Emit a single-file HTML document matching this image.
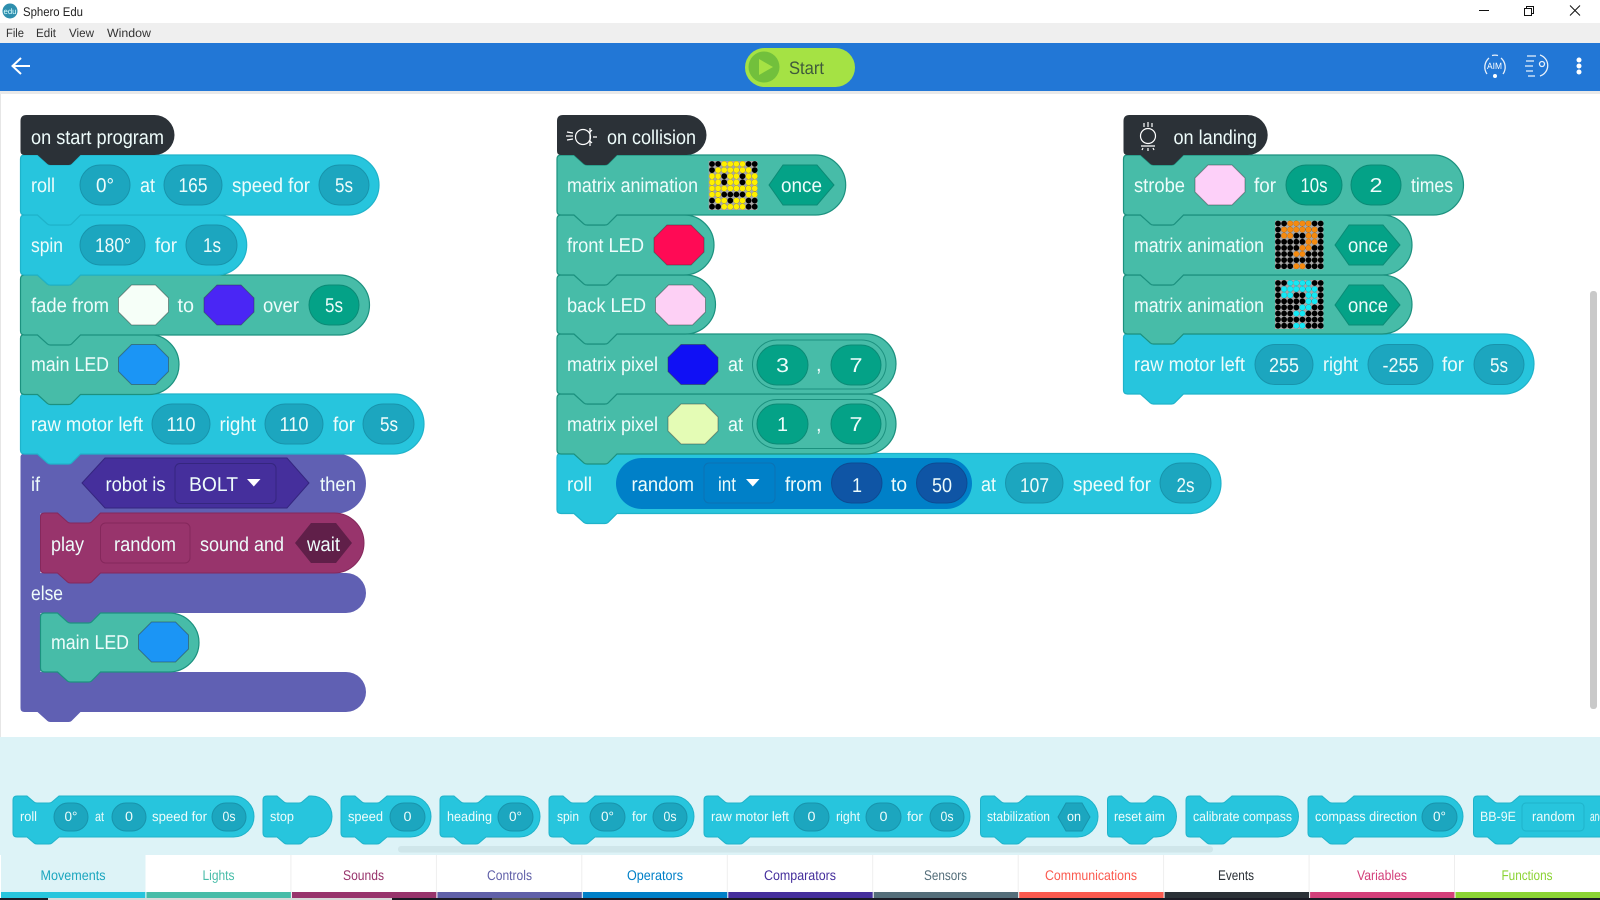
<!DOCTYPE html>
<html><head><meta charset="utf-8"><title>Sphero Edu</title>
<style>
html,body{margin:0;padding:0;background:#fff;width:1600px;height:900px;overflow:hidden}
svg{display:block}
text{font-family:"Liberation Sans",sans-serif;text-rendering:geometricPrecision}
.t text{font-size:20px;fill:#eefcfb}
.v text{font-size:20px;fill:#eefcfb;text-anchor:middle}
.p text{font-size:13.5px;fill:#eefcfb}
.pv text{font-size:13.5px;fill:#eefcfb;text-anchor:middle}
.c{fill:#27c5dd;stroke:#1fb3ca;stroke-width:1.2}
.g{fill:#47bca8;stroke:#1c917f;stroke-width:1.2}
.pc{fill:#1ca6bf;stroke:#1894ac}
.pg{fill:#04a287;stroke:#0b8b76}
.o{stroke:#333;stroke-opacity:.45;stroke-width:1}
.dots{fill:none;stroke-linecap:round;stroke-width:.95;stroke-dasharray:0 1}
.tab text{font-size:14px;text-anchor:middle}
</style></head>
<body>
<svg width="1600" height="900" viewBox="0 0 1600 900" xmlns="http://www.w3.org/2000/svg">
<defs>
<path id="mk" class="dots" stroke="#000" d="M0 0h7.01M0 1h7.01M0 2h7.01M0 3h7.01M0 4h7.01M0 5h7.01M0 6h7.01M0 7h7.01"/>
<path id="oc" d="M13 0H37L50 13V27L37 40H13L0 27V13Z"/>
</defs>
<!-- app chrome -->
<rect width="1600" height="900" fill="#fff"/>
<rect x="0" y="23" width="1600" height="20" fill="#efefef"/>
<rect x="0" y="43" width="1600" height="48" fill="#2277d6"/>
<rect x="0" y="91" width="1600" height="3" fill="#e9e9e9"/>
<rect x="0" y="94" width="1" height="643" fill="#e6e6e6"/>
<circle cx="10" cy="11" r="7.5" fill="#2e8fae"/>
<text x="3.5" y="14" font-size="8" fill="#dff" textLength="13" lengthAdjust="spacingAndGlyphs">edu</text>
<text x="23" y="16" font-size="12.5" fill="#222" textLength="60" lengthAdjust="spacingAndGlyphs">Sphero Edu</text>
<g font-size="12" fill="#333">
<text x="6" y="37" textLength="18" lengthAdjust="spacingAndGlyphs">File</text>
<text x="36" y="37" textLength="20" lengthAdjust="spacingAndGlyphs">Edit</text>
<text x="69" y="37" textLength="25" lengthAdjust="spacingAndGlyphs">View</text>
<text x="107" y="37" textLength="44" lengthAdjust="spacingAndGlyphs">Window</text>
</g>
<path d="M1479 10.5h10" stroke="#111" fill="none"/>
<path d="M1524.5 8.5h7v7h-7zM1526.5 8.5v-2h7v7h-2" stroke="#111" fill="none"/>
<path d="M1570 5.5l10 10M1580 5.5l-10 10" stroke="#111" fill="none"/>
<path d="M13 66H30M21 58l-8.500 8 8.500 8" stroke="#fff" stroke-width="2" fill="none"/>
<rect x="745" y="48" width="110" height="39" rx="19.500" fill="#a5e244"/>
<circle cx="764" cy="67" r="15.500" fill="#72c03c"/>
<path d="M759 59l14 8-14 8z" fill="#a5e244"/>
<text x="789" y="74" font-size="18" fill="#3f5a3c" textLength="35" lengthAdjust="spacingAndGlyphs">Start</text>
<g fill="none" stroke="#fff" stroke-width="1.300" opacity=".9">
<path d="M1489 58a12 12 0 0 0 -2 16M1501 58a12 12 0 0 1 2 16M1492 55.500a12 12 0 0 1 6 0"/>
<path d="M1527 56h9M1526 61h8M1525 66h8M1526 71h7M1528 76h7M1540 55a11 11 0 0 1 0 21"/>
<circle cx="1542" cy="64" r="2.500"/>
</g>
<circle cx="1495" cy="76" r="2" fill="#fff"/>
<text x="1487" y="69" font-size="9" fill="#fff" textLength="15" lengthAdjust="spacingAndGlyphs">AIM</text>
<circle cx="1579" cy="60" r="2.500" fill="#fff"/><circle cx="1579" cy="66" r="2.500" fill="#fff"/><circle cx="1579" cy="72" r="2.500" fill="#fff"/>
<rect x="1590" y="291" width="7" height="418" rx="3" fill="#c9c9c9"/>

<!-- COLUMN 1 shapes bottom-up -->
<path fill="#6060b3" d="M20.500 457.500q0-4 4-4h13l10 9q1 1 3 1h18q2 0 3-1l9-9H336a30 30 0 0 1 0 60H100.500l-9 9q-1 1-3 1h-18q-2 0-3-1l-10-9h-17V573H346a20 20 0 0 1 0 40H100.500l-9 9q-1 1-3 1h-18q-2 0-3-1l-10-9h-17V672H346a20 20 0 0 1 0 40H80.500l-9 9q-1 1-3 1h-18q-2 0-3-1l-10-9h-13q-4 0-4-4z"/>
<path fill="#98346c" stroke="#85285c" d="M40.500 517q0-4 4-4h13l10 9q1 1 3 1h18q2 0 3-1l9-9H334a30 30 0 0 1 0 60H100.500l-9 9q-1 1-3 1h-18q-2 0-3-1l-10-9h-13q-4 0-4-4z"/>
<path class="g" d="M40.500 617q0-4 4-4h13l10 9q1 1 3 1h18q2 0 3-1l9-9H169a30 29.500 0 0 1 0 59H100.500l-9 9q-1 1-3 1h-18q-2 0-3-1l-10-9h-13q-4 0-4-4z"/>
<path class="c" d="M20.500 398q0-4 4-4h13l10 9q1 1 3 1h18q2 0 3-1l9-9H394a30 30 0 0 1 0 60H80.500l-9 9q-1 1-3 1h-18q-2 0-3-1l-10-9h-13q-4 0-4-4z"/>
<path class="g" d="M20.500 338.500q0-4 4-4h13l10 9q1 1 3 1h18q2 0 3-1l9-9H149a30 30 0 0 1 0 60H80.500l-9 9q-1 1-3 1h-18q-2 0-3-1l-10-9h-13q-4 0-4-4z"/>
<path class="g" d="M20.500 279q0-4 4-4h13l10 9q1 1 3 1h18q2 0 3-1l9-9H339.500a30 30 0 0 1 0 60H80.500l-9 9q-1 1-3 1h-18q-2 0-3-1l-10-9h-13q-4 0-4-4z"/>
<path class="c" d="M20.500 219q0-4 4-4h13l10 9q1 1 3 1h18q2 0 3-1l9-9H216.700a30 30 0 0 1 0 60H80.500l-9 9q-1 1-3 1h-18q-2 0-3-1l-10-9h-13q-4 0-4-4z"/>
<path class="c" d="M20.500 159q0-4 4-4h13l10 9q1 1 3 1h18q2 0 3-1l9-9H349a30 30 0 0 1 0 60H80.500l-9 9q-1 1-3 1h-18q-2 0-3-1l-10-9h-13q-4 0-4-4z"/>
<path fill="#2b3137" d="M20.500 121q0-6 6-6H154.500a20 20 0 0 1 0 40H80.500l-9 9q-1 1-3 1h-18q-2 0-3-1l-10-9h-13q-4 0-4-4z"/>

<!-- COLUMN 2 shapes -->
<path class="c" d="M557 457.500q0-4 4-4h13l10 9q1 1 3 1h18q2 0 3-1l9-9H1191a30 30 0 0 1 0 60H617l-9 9q-1 1-3 1h-18q-2 0-3-1l-10-9h-13q-4 0-4-4z"/>
<path class="g" d="M557 398q0-4 4-4h13l10 9q1 1 3 1h18q2 0 3-1l9-9H866a30 30 0 0 1 0 60H617l-9 9q-1 1-3 1h-18q-2 0-3-1l-10-9h-13q-4 0-4-4z"/>
<path class="g" d="M557 338q0-4 4-4h13l10 9q1 1 3 1h18q2 0 3-1l9-9H866a30 30 0 0 1 0 60H617l-9 9q-1 1-3 1h-18q-2 0-3-1l-10-9h-13q-4 0-4-4z"/>
<path class="g" d="M557 279q0-4 4-4h13l10 9q1 1 3 1h18q2 0 3-1l9-9H685.500a30 29.500 0 0 1 0 59H617l-9 9q-1 1-3 1h-18q-2 0-3-1l-10-9h-13q-4 0-4-4z"/>
<path class="g" d="M557 219q0-4 4-4h13l10 9q1 1 3 1h18q2 0 3-1l9-9H684a30 30 0 0 1 0 60H617l-9 9q-1 1-3 1h-18q-2 0-3-1l-10-9h-13q-4 0-4-4z"/>
<path class="g" d="M557 159q0-4 4-4h13l10 9q1 1 3 1h18q2 0 3-1l9-9H815.700a30 30 0 0 1 0 60H617l-9 9q-1 1-3 1h-18q-2 0-3-1l-10-9h-13q-4 0-4-4z"/>
<path fill="#2b3137" d="M557 121q0-6 6-6H686.500a20 20 0 0 1 0 40H617l-9 9q-1 1-3 1h-18q-2 0-3-1l-10-9h-13q-4 0-4-4z"/>

<!-- COLUMN 3 shapes -->
<path class="c" d="M1123.500 338q0-4 4-4h13l10 9q1 1 3 1h18q2 0 3-1l9-9H1504a30 30 0 0 1 0 60H1183.500l-9 9q-1 1-3 1h-18q-2 0-3-1l-10-9h-13q-4 0-4-4z"/>
<path class="g" d="M1123.500 279q0-4 4-4h13l10 9q1 1 3 1h18q2 0 3-1l9-9H1382a30 29.500 0 0 1 0 59H1183.500l-9 9q-1 1-3 1h-18q-2 0-3-1l-10-9h-13q-4 0-4-4z"/>
<path class="g" d="M1123.500 219q0-4 4-4h13l10 9q1 1 3 1h18q2 0 3-1l9-9H1382a30 30 0 0 1 0 60H1183.500l-9 9q-1 1-3 1h-18q-2 0-3-1l-10-9h-13q-4 0-4-4z"/>
<path class="g" d="M1123.500 159q0-4 4-4h13l10 9q1 1 3 1h18q2 0 3-1l9-9H1433.500a30 30 0 0 1 0 60H1183.500l-9 9q-1 1-3 1h-18q-2 0-3-1l-10-9h-13q-4 0-4-4z"/>
<path fill="#2b3137" d="M1123.500 121q0-6 6-6H1247.700a20 20 0 0 1 0 40H1183.500l-9 9q-1 1-3 1h-18q-2 0-3-1l-10-9h-13q-4 0-4-4z"/>

<!-- pills column 1 -->
<rect class="pc" x="80" y="165" width="50" height="40" rx="20"/>
<rect class="pc" x="164" y="165" width="58" height="40" rx="20"/>
<rect class="pc" x="319" y="165" width="50" height="40" rx="20"/>
<rect class="pc" x="80" y="225" width="65" height="40" rx="20"/>
<rect class="pc" x="186" y="225" width="51" height="40" rx="20"/>
<use href="#oc" x="118.500" y="285" fill="#f6fff8" class="o"/>
<use href="#oc" x="204" y="285" fill="#4a26f5" class="o"/>
<rect class="pg" x="309" y="285" width="50" height="40" rx="20"/>
<use href="#oc" x="118.500" y="344.500" fill="#1b95f5" class="o"/>
<rect class="pc" x="152" y="404" width="58" height="40" rx="20"/>
<rect class="pc" x="265" y="404" width="58" height="40" rx="20"/>
<rect class="pc" x="363" y="404" width="51" height="40" rx="20"/>
<path d="M82 483L105 458H287L309 483L287 508H105Z" fill="#452f9c" stroke="#35267f"/>
<rect x="175" y="463.500" width="101" height="40" rx="5" fill="#452f9c" stroke="#35267f"/>
<path d="M247 479h13.500l-6.700 7.500z" fill="#fff"/>
<rect x="100.500" y="523" width="89.500" height="40" rx="5" fill="#98346c" stroke="#85285c"/>
<path d="M295 543L311 523H336L352 543L336 563H311Z" fill="#601f49"/>
<use href="#oc" x="138.500" y="622" fill="#1b95f5" class="o"/>

<g class="t">
<text x="31" y="144" textLength="133" lengthAdjust="spacingAndGlyphs">on start program</text>
<text x="31" y="192" textLength="24" lengthAdjust="spacingAndGlyphs">roll</text>
<text x="140" y="192" textLength="15" lengthAdjust="spacingAndGlyphs">at</text>
<text x="232" y="192" textLength="78" lengthAdjust="spacingAndGlyphs">speed for</text>
<text x="31" y="252" textLength="32" lengthAdjust="spacingAndGlyphs">spin</text>
<text x="155" y="252" textLength="22" lengthAdjust="spacingAndGlyphs">for</text>
<text x="31" y="312" textLength="78" lengthAdjust="spacingAndGlyphs">fade from</text>
<text x="177.500" y="312" textLength="16.500" lengthAdjust="spacingAndGlyphs">to</text>
<text x="263" y="312" textLength="36" lengthAdjust="spacingAndGlyphs">over</text>
<text x="31" y="371" textLength="78" lengthAdjust="spacingAndGlyphs">main LED</text>
<text x="31" y="431" textLength="112" lengthAdjust="spacingAndGlyphs">raw motor left</text>
<text x="219.500" y="431" textLength="36.500" lengthAdjust="spacingAndGlyphs">right</text>
<text x="333" y="431" textLength="22" lengthAdjust="spacingAndGlyphs">for</text>
<text x="31" y="491" textLength="9" lengthAdjust="spacingAndGlyphs">if</text>
<text x="105.500" y="491" textLength="60" lengthAdjust="spacingAndGlyphs">robot is</text>
<text x="189" y="491" textLength="49" lengthAdjust="spacingAndGlyphs">BOLT</text>
<text x="320" y="491" textLength="36" lengthAdjust="spacingAndGlyphs">then</text>
<text x="51" y="551" textLength="33" lengthAdjust="spacingAndGlyphs">play</text>
<text x="114" y="551" textLength="62" lengthAdjust="spacingAndGlyphs">random</text>
<text x="200" y="551" textLength="84" lengthAdjust="spacingAndGlyphs">sound and</text>
<text x="307" y="551" textLength="33" lengthAdjust="spacingAndGlyphs">wait</text>
<text x="31" y="600" textLength="32" lengthAdjust="spacingAndGlyphs">else</text>
<text x="51" y="649" textLength="78" lengthAdjust="spacingAndGlyphs">main LED</text>
</g>
<g class="v">
<text x="105" y="192" textLength="18" lengthAdjust="spacingAndGlyphs">0°</text>
<text x="193" y="192" textLength="29" lengthAdjust="spacingAndGlyphs">165</text>
<text x="344" y="192" textLength="18" lengthAdjust="spacingAndGlyphs">5s</text>
<text x="113" y="252" textLength="36" lengthAdjust="spacingAndGlyphs">180°</text>
<text x="212" y="252" textLength="18" lengthAdjust="spacingAndGlyphs">1s</text>
<text x="334" y="312" textLength="18" lengthAdjust="spacingAndGlyphs">5s</text>
<text x="181" y="431" textLength="29" lengthAdjust="spacingAndGlyphs">110</text>
<text x="294" y="431" textLength="29" lengthAdjust="spacingAndGlyphs">110</text>
<text x="389" y="431" textLength="18" lengthAdjust="spacingAndGlyphs">5s</text>
</g>

<!-- column 2 contents -->
<rect x="708.700" y="161" width="48.600" height="49" fill="#a8a8a8"/>
<g transform="translate(712,164) scale(6.1)">
<use href="#mk"/>
<path class="dots" stroke="#fff000" d="M2 0h3.010M1 1h5.010M0 2h1.010M3 2h1.010M6 2h1.010M0 3h1.010M3 3h1.010M6 3h1.010M0 4h7.010M0 5h1.010M6 5h1.010M1 6h1.010M4 6h1.010M2 7h3.010"/>
</g>
<path d="M769 185L783 165H817L834 185L817 205H783Z" fill="#04a287" stroke="#0b8b76"/>
<use href="#oc" x="654" y="225" fill="#ff0a55" class="o"/>
<use href="#oc" x="655.500" y="285" fill="#fdd0f5" class="o"/>
<rect x="752.500" y="340" width="133.500" height="49" rx="24.500" fill="#47bca8" stroke="#1c917f"/>
<use href="#oc" x="668" y="344.500" fill="#1010f5" class="o"/>
<rect class="pg" x="757" y="345" width="51" height="40" rx="20"/>
<rect class="pg" x="831" y="345" width="50" height="40" rx="20"/>
<rect x="752.500" y="399.500" width="133.500" height="49" rx="24.500" fill="#47bca8" stroke="#1c917f"/>
<use href="#oc" x="668" y="404" fill="#e4fcb5" class="o"/>
<rect class="pg" x="757" y="404" width="51" height="40" rx="20"/>
<rect class="pg" x="831" y="404" width="50" height="40" rx="20"/>
<rect x="616" y="458" width="356" height="51" rx="25.500" fill="#0080c8"/>
<rect x="704" y="463" width="71" height="40" rx="5" fill="#0080c8" stroke="#0b72b4"/>
<path d="M746 479h13.500l-6.700 7.500z" fill="#fff"/>
<rect x="831.500" y="463" width="50.500" height="40" rx="20" fill="#0f55a5" stroke="#0d4b93"/>
<rect x="916.500" y="463" width="50.500" height="40" rx="20" fill="#0f55a5" stroke="#0d4b93"/>
<rect class="pc" x="1005.500" y="463" width="57.500" height="40" rx="20"/>
<rect class="pc" x="1160" y="463" width="51" height="40" rx="20"/>
<g fill="none" stroke="#fff" stroke-width="1.200">
<circle cx="583" cy="137" r="7.500"/>
<path d="M567 132l6 1M566 136h7M567 140l6-1M592 130l-3 3M593 137h4M592 143l-3-3M590 128v18"/>
<circle cx="1148" cy="136" r="7.500"/>
<path d="M1141 146h14M1148 122v5M1144 123v4M1152 123v4M1148 148v3M1143 148l-1 2M1153 148l1 2"/>
</g>
<g class="t">
<text x="607" y="144" textLength="89" lengthAdjust="spacingAndGlyphs">on collision</text>
<text x="567" y="192" textLength="131" lengthAdjust="spacingAndGlyphs">matrix animation</text>
<text x="781" y="192" textLength="41" lengthAdjust="spacingAndGlyphs">once</text>
<text x="567" y="252" textLength="77" lengthAdjust="spacingAndGlyphs">front LED</text>
<text x="567" y="312" textLength="79" lengthAdjust="spacingAndGlyphs">back LED</text>
<text x="567" y="371" textLength="91" lengthAdjust="spacingAndGlyphs">matrix pixel</text>
<text x="728" y="371" textLength="15" lengthAdjust="spacingAndGlyphs">at</text>
<text x="816" y="371" textLength="5">,</text>
<text x="567" y="431" textLength="91" lengthAdjust="spacingAndGlyphs">matrix pixel</text>
<text x="728" y="431" textLength="15" lengthAdjust="spacingAndGlyphs">at</text>
<text x="816" y="431" textLength="5">,</text>
<text x="567" y="491" textLength="25" lengthAdjust="spacingAndGlyphs">roll</text>
<text x="631.500" y="491" textLength="62.500" lengthAdjust="spacingAndGlyphs">random</text>
<text x="718" y="491" textLength="18" lengthAdjust="spacingAndGlyphs">int</text>
<text x="785" y="491" textLength="37" lengthAdjust="spacingAndGlyphs">from</text>
<text x="891" y="491" textLength="16" lengthAdjust="spacingAndGlyphs">to</text>
<text x="981" y="491" textLength="15" lengthAdjust="spacingAndGlyphs">at</text>
<text x="1073" y="491" textLength="78" lengthAdjust="spacingAndGlyphs">speed for</text>
</g>
<g class="v">
<text x="782.500" y="372" textLength="13" lengthAdjust="spacingAndGlyphs">3</text>
<text x="856" y="372" textLength="13" lengthAdjust="spacingAndGlyphs">7</text>
<text x="782.500" y="431" textLength="11" lengthAdjust="spacingAndGlyphs">1</text>
<text x="856" y="431" textLength="13" lengthAdjust="spacingAndGlyphs">7</text>
<text x="857" y="492" textLength="10" lengthAdjust="spacingAndGlyphs">1</text>
<text x="942" y="492" textLength="20" lengthAdjust="spacingAndGlyphs">50</text>
<text x="1034.500" y="492" textLength="29" lengthAdjust="spacingAndGlyphs">107</text>
<text x="1185.500" y="492" textLength="18" lengthAdjust="spacingAndGlyphs">2s</text>
</g>

<!-- column 3 contents -->
<use href="#oc" x="1195" y="165" fill="#fdd0f9" class="o"/>
<rect class="pg" x="1286" y="165" width="56" height="40" rx="20"/>
<rect class="pg" x="1351" y="165" width="50" height="40" rx="20"/>
<rect x="1275" y="220.700" width="48.300" height="48.600" fill="#a8a8a8"/>
<g transform="translate(1278,223.500) scale(6.1)">
<use href="#mk"/>
<path class="dots" stroke="#f58a10" d="M2 0h3.010M1 1h5.010M1 2h1.010M5 2h1.010M5 3h1.010M4 4h1.010M3 5h1.010M3 7h1.010"/>
</g>
<path d="M1335 245L1349 225H1383L1400 245L1383 265H1349Z" fill="#04a287" stroke="#0b8b76"/>
<rect x="1275" y="280" width="48.300" height="49" fill="#a8a8a8"/>
<g transform="translate(1278,283) scale(6.1)">
<use href="#mk"/>
<path class="dots" stroke="#15e8f5" d="M2 0h3.010M1 1h5.010M1 2h1.010M5 2h1.010M5 3h1.010M4 4h1.010M3 5h1.010M3 7h1.010"/>
</g>
<path d="M1335 305L1349 285H1383L1400 305L1383 325H1349Z" fill="#04a287" stroke="#0b8b76"/>
<rect class="pc" x="1255" y="344.500" width="58" height="40" rx="20"/>
<rect class="pc" x="1368" y="344.500" width="65" height="40" rx="20"/>
<rect class="pc" x="1474" y="344.500" width="50" height="40" rx="20"/>
<g class="t">
<text x="1173.500" y="144" textLength="83.500" lengthAdjust="spacingAndGlyphs">on landing</text>
<text x="1134" y="192" textLength="51" lengthAdjust="spacingAndGlyphs">strobe</text>
<text x="1254" y="192" textLength="22" lengthAdjust="spacingAndGlyphs">for</text>
<text x="1411" y="192" textLength="42" lengthAdjust="spacingAndGlyphs">times</text>
<text x="1134" y="252" textLength="130" lengthAdjust="spacingAndGlyphs">matrix animation</text>
<text x="1348" y="252" textLength="40" lengthAdjust="spacingAndGlyphs">once</text>
<text x="1134" y="312" textLength="130" lengthAdjust="spacingAndGlyphs">matrix animation</text>
<text x="1348" y="312" textLength="40" lengthAdjust="spacingAndGlyphs">once</text>
<text x="1134" y="371" textLength="111" lengthAdjust="spacingAndGlyphs">raw motor left</text>
<text x="1323" y="371" textLength="35" lengthAdjust="spacingAndGlyphs">right</text>
<text x="1442" y="371" textLength="22" lengthAdjust="spacingAndGlyphs">for</text>
</g>
<g class="v">
<text x="1314" y="192" textLength="27" lengthAdjust="spacingAndGlyphs">10s</text>
<text x="1376" y="192" textLength="13" lengthAdjust="spacingAndGlyphs">2</text>
<text x="1284" y="372" textLength="30" lengthAdjust="spacingAndGlyphs">255</text>
<text x="1400.500" y="372" textLength="36" lengthAdjust="spacingAndGlyphs">-255</text>
<text x="1499" y="372" textLength="18" lengthAdjust="spacingAndGlyphs">5s</text>
</g>

<!-- drawer -->
<rect x="0" y="737" width="1600" height="118" fill="#ddf3f7"/>
<rect x="398" y="846" width="815" height="6.500" rx="3" fill="#cfe6ea"/>
<g fill="#27c5dd" stroke="#1fb3ca" stroke-width="1">
<path d="M13 800q0-4 4-4h10l7 6q1 1 3 1h12q2 0 3-1l7-6H233.500a20.500 20.500 0 0 1 0 41H59l-7 6q-1 1-3 1h-12q-2 0-3-1l-7-6h-10q-4 0-4-4z"/>
<path d="M263 800q0-4 4-4h10l7 6q1 1 3 1h12q2 0 3-1l7-6H311.500a20.500 20.500 0 0 1 0 41H309l-7 6q-1 1-3 1h-12q-2 0-3-1l-7-6h-10q-4 0-4-4z"/>
<path d="M341 800q0-4 4-4h10l7 6q1 1 3 1h12q2 0 3-1l7-6H410.500a20.500 20.500 0 0 1 0 41H387l-7 6q-1 1-3 1h-12q-2 0-3-1l-7-6h-10q-4 0-4-4z"/>
<path d="M440 800q0-4 4-4h10l7 6q1 1 3 1h12q2 0 3-1l7-6H519.500a20.500 20.500 0 0 1 0 41H486l-7 6q-1 1-3 1h-12q-2 0-3-1l-7-6h-10q-4 0-4-4z"/>
<path d="M549 800q0-4 4-4h10l7 6q1 1 3 1h12q2 0 3-1l7-6H673.500a20.500 20.500 0 0 1 0 41H595l-7 6q-1 1-3 1h-12q-2 0-3-1l-7-6h-10q-4 0-4-4z"/>
<path d="M704 800q0-4 4-4h10l7 6q1 1 3 1h12q2 0 3-1l7-6H949.500a20.500 20.500 0 0 1 0 41H750l-7 6q-1 1-3 1h-12q-2 0-3-1l-7-6h-10q-4 0-4-4z"/>
<path d="M980.500 800q0-4 4-4h10l7 6q1 1 3 1h12q2 0 3-1l7-6H1077.500a20.500 20.500 0 0 1 0 41H1026.500l-7 6q-1 1-3 1h-12q-2 0-3-1l-7-6h-10q-4 0-4-4z"/>
<path d="M1107.500 800q0-4 4-4h10l7 6q1 1 3 1h12q2 0 3-1l7-6H1156a20.500 20.500 0 0 1 0 41H1153.500l-7 6q-1 1-3 1h-12q-2 0-3-1l-7-6h-10q-4 0-4-4z"/>
<path d="M1186 800q0-4 4-4h10l7 6q1 1 3 1h12q2 0 3-1l7-6H1278a20.500 20.500 0 0 1 0 41H1232l-7 6q-1 1-3 1h-12q-2 0-3-1l-7-6h-10q-4 0-4-4z"/>
<path d="M1308 800q0-4 4-4h10l7 6q1 1 3 1h12q2 0 3-1l7-6H1442.500a20.500 20.500 0 0 1 0 41H1354l-7 6q-1 1-3 1h-12q-2 0-3-1l-7-6h-10q-4 0-4-4z"/>
<path d="M1473.500 800q0-4 4-4h10l7 6q1 1 3 1h12q2 0 3-1l7-6H1680a20.500 20.500 0 0 1 0 41H1519.500l-7 6q-1 1-3 1h-12q-2 0-3-1l-7-6h-10q-4 0-4-4z"/>
</g>
<g fill="#1ca6bf" stroke="#1894ac">
<rect x="54" y="803" width="34" height="28" rx="14"/>
<rect x="112" y="803" width="34" height="28" rx="14"/>
<rect x="212" y="803" width="34" height="28" rx="14"/>
<rect x="390" y="803" width="35" height="28" rx="14"/>
<rect x="498" y="803" width="35" height="28" rx="14"/>
<rect x="590" y="803" width="35" height="28" rx="14"/>
<rect x="653" y="803" width="34" height="28" rx="14"/>
<rect x="794" y="803" width="35" height="28" rx="14"/>
<rect x="866" y="803" width="35" height="28" rx="14"/>
<rect x="930" y="803" width="34" height="28" rx="14"/>
<path d="M1058 817L1066 803H1082L1090 817L1082 831H1066Z"/>
<rect x="1422" y="803" width="35" height="28" rx="14"/>
</g>
<rect x="1522" y="803" width="62" height="28" rx="4" fill="#27c5dd" stroke="#1fb3ca"/>
<g class="p">
<text x="20" y="821" textLength="17" lengthAdjust="spacingAndGlyphs">roll</text>
<text x="95" y="821" textLength="9" lengthAdjust="spacingAndGlyphs">at</text>
<text x="152" y="821" textLength="55" lengthAdjust="spacingAndGlyphs">speed for</text>
<text x="270" y="821" textLength="24" lengthAdjust="spacingAndGlyphs">stop</text>
<text x="348" y="821" textLength="35" lengthAdjust="spacingAndGlyphs">speed</text>
<text x="447" y="821" textLength="45" lengthAdjust="spacingAndGlyphs">heading</text>
<text x="557" y="821" textLength="22" lengthAdjust="spacingAndGlyphs">spin</text>
<text x="632" y="821" textLength="15" lengthAdjust="spacingAndGlyphs">for</text>
<text x="711" y="821" textLength="78" lengthAdjust="spacingAndGlyphs">raw motor left</text>
<text x="836" y="821" textLength="24" lengthAdjust="spacingAndGlyphs">right</text>
<text x="907" y="821" textLength="16" lengthAdjust="spacingAndGlyphs">for</text>
<text x="987" y="821" textLength="63" lengthAdjust="spacingAndGlyphs">stabilization</text>
<text x="1114" y="821" textLength="51" lengthAdjust="spacingAndGlyphs">reset aim</text>
<text x="1193" y="821" textLength="99" lengthAdjust="spacingAndGlyphs">calibrate compass</text>
<text x="1315" y="821" textLength="102" lengthAdjust="spacingAndGlyphs">compass direction</text>
<text x="1480" y="821" textLength="36" lengthAdjust="spacingAndGlyphs">BB-9E</text>
<text x="1532" y="821" textLength="43" lengthAdjust="spacingAndGlyphs">random</text>
<text x="1590" y="821" textLength="14" lengthAdjust="spacingAndGlyphs">and</text>
</g>
<g class="pv">
<text x="71" y="821" textLength="13" lengthAdjust="spacingAndGlyphs">0°</text>
<text x="129" y="821" textLength="8" lengthAdjust="spacingAndGlyphs">0</text>
<text x="229" y="821" textLength="13" lengthAdjust="spacingAndGlyphs">0s</text>
<text x="407.500" y="821" textLength="8" lengthAdjust="spacingAndGlyphs">0</text>
<text x="515.500" y="821" textLength="13" lengthAdjust="spacingAndGlyphs">0°</text>
<text x="607.500" y="821" textLength="13" lengthAdjust="spacingAndGlyphs">0°</text>
<text x="670" y="821" textLength="13" lengthAdjust="spacingAndGlyphs">0s</text>
<text x="811.500" y="821" textLength="8" lengthAdjust="spacingAndGlyphs">0</text>
<text x="883.500" y="821" textLength="8" lengthAdjust="spacingAndGlyphs">0</text>
<text x="947" y="821" textLength="13" lengthAdjust="spacingAndGlyphs">0s</text>
<text x="1074" y="821" textLength="14" lengthAdjust="spacingAndGlyphs">on</text>
<text x="1439.500" y="821" textLength="13" lengthAdjust="spacingAndGlyphs">0°</text>
</g>

<!-- tabs -->
<rect x="0" y="855" width="1600" height="37" fill="#fff"/>
<rect x="1" y="855" width="144.500" height="37" fill="#ddf3f7"/>
<path d="M290.900 855v37M436.400 855v37M581.800 855v37M727.300 855v37M872.700 855v37M1018.200 855v37M1163.600 855v37M1309.100 855v37M1454.500 855v37" stroke="#eeeeee"/>
<rect x="1" y="892" width="144.400" height="6" fill="#27c5dd"/>
<rect x="146.400" y="892" width="144.500" height="6" fill="#47bca8"/>
<rect x="291.900" y="892" width="144.500" height="6" fill="#98346c"/>
<rect x="437.400" y="892" width="144.400" height="6" fill="#6060a8"/>
<rect x="582.800" y="892" width="144.500" height="6" fill="#0080c8"/>
<rect x="728.300" y="892" width="144.400" height="6" fill="#452f9c"/>
<rect x="873.700" y="892" width="144.500" height="6" fill="#546e7a"/>
<rect x="1019.200" y="892" width="144.400" height="6" fill="#fb5a4f"/>
<rect x="1164.600" y="892" width="144.500" height="6" fill="#2b3137"/>
<rect x="1310.100" y="892" width="144.400" height="6" fill="#d33f7a"/>
<rect x="1455.500" y="892" width="144.500" height="6" fill="#8bd334"/>
<rect x="0" y="898" width="1600" height="2" fill="#1a1a24"/>
<rect x="48" y="898" width="344" height="2" fill="#d8d8d8"/>
<rect x="492" y="898" width="48" height="2" fill="#555"/>
<g class="tab">
<text x="73" y="880" fill="#1ca6bf" textLength="65" lengthAdjust="spacingAndGlyphs">Movements</text>
<text x="218.500" y="880" fill="#47bca8" textLength="32" lengthAdjust="spacingAndGlyphs">Lights</text>
<text x="363.500" y="880" fill="#98346c" textLength="41" lengthAdjust="spacingAndGlyphs">Sounds</text>
<text x="509.500" y="880" fill="#6060a8" textLength="45" lengthAdjust="spacingAndGlyphs">Controls</text>
<text x="655" y="880" fill="#0080c8" textLength="56" lengthAdjust="spacingAndGlyphs">Operators</text>
<text x="800" y="880" fill="#452f9c" textLength="72" lengthAdjust="spacingAndGlyphs">Comparators</text>
<text x="945.500" y="880" fill="#546e7a" textLength="43" lengthAdjust="spacingAndGlyphs">Sensors</text>
<text x="1091" y="880" fill="#fb5a4f" textLength="92" lengthAdjust="spacingAndGlyphs">Communications</text>
<text x="1236" y="880" fill="#2b3137" textLength="36" lengthAdjust="spacingAndGlyphs">Events</text>
<text x="1382" y="880" fill="#d33f7a" textLength="50" lengthAdjust="spacingAndGlyphs">Variables</text>
<text x="1527" y="880" fill="#8bd334" textLength="51" lengthAdjust="spacingAndGlyphs">Functions</text>
</g>
</svg>
</body></html>
